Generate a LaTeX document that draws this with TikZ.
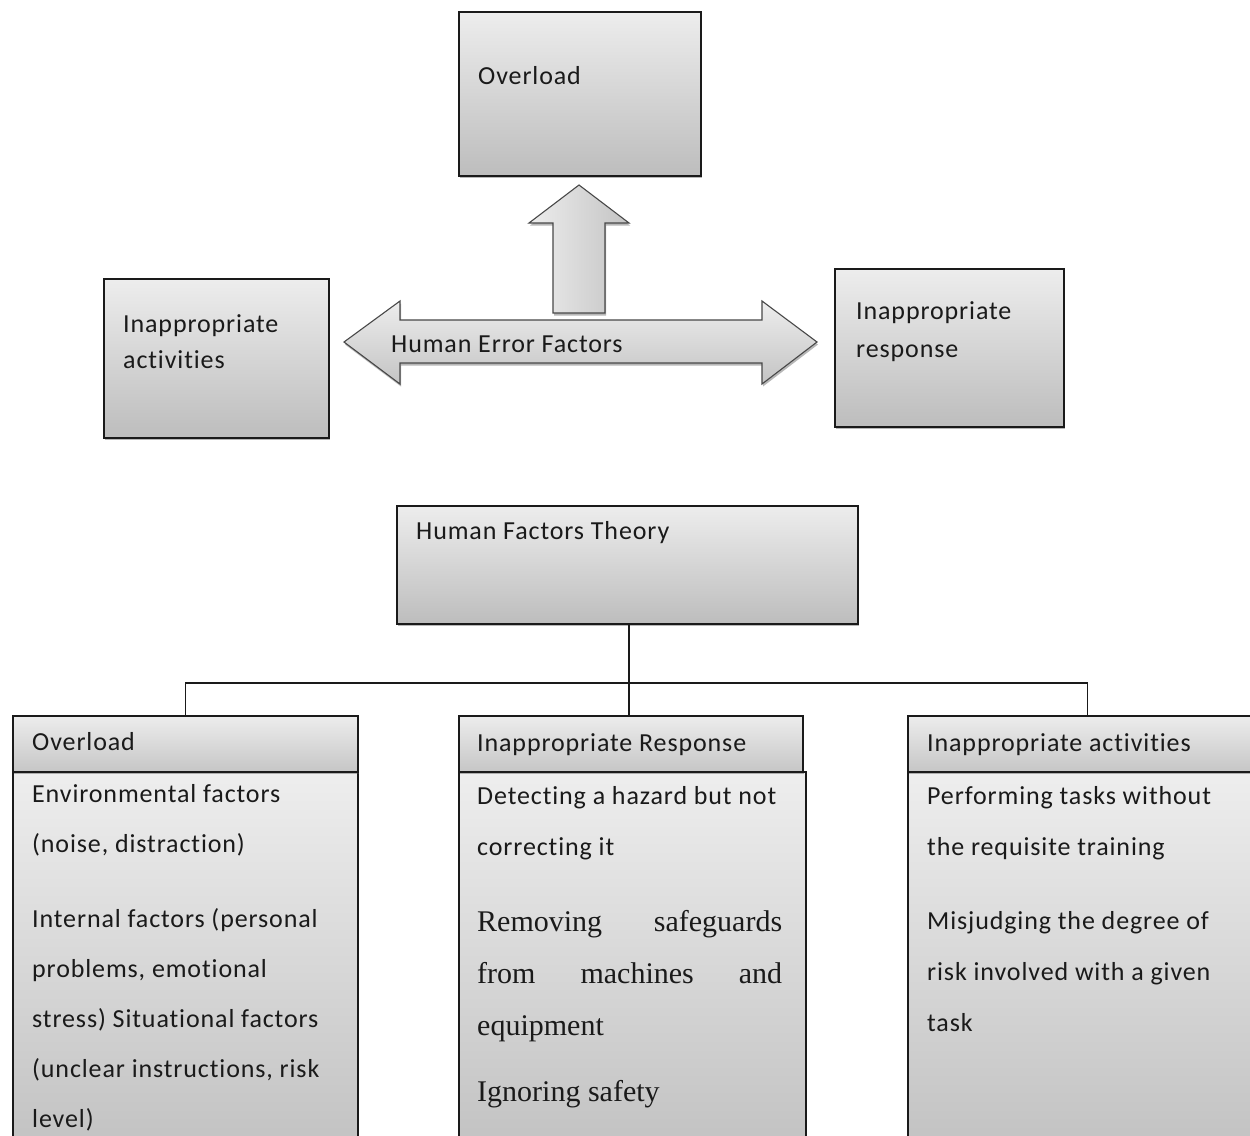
\documentclass[tikz,border=0pt]{standalone}
\usepackage{fontspec}
\setmainfont{Carlito}[LetterSpace=3.4, Ligatures={NoCommon}]
\newfontfamily\serifb{Liberation Serif}
\usetikzlibrary{shadows}
\definecolor{boxtop}{HTML}{EDEDED}
\definecolor{boxbot}{HTML}{BDBDBD}
\definecolor{hdrbot}{HTML}{C6C6C6}
\definecolor{ink}{HTML}{1A1A1A}
\tikzset{
  shad/.style={drop shadow={shadow xshift=1pt, shadow yshift=-2.5pt, opacity=0.4, fill=black!70}},
  box/.style={rectangle, draw=ink, line width=1.5pt, top color=boxtop, bottom color=boxbot, shad, inner sep=0pt, anchor=north west},
  hdr/.style={box, bottom color=hdrbot},
  body/.style={rectangle, draw=ink, line width=1.5pt, top color=boxtop!95!white, bottom color=boxbot, inner sep=0pt, anchor=north west},
  arrowshape/.style={draw=ink!80, line width=1.1pt, shad},
  txt/.style={inner sep=0pt, anchor=base west, text=ink, font=\fontsize{26}{36}\selectfont},
  stxt/.style={inner sep=0pt, anchor=base west, text=ink, font=\serifb\fontsize{30}{52}\selectfont},
  conn/.style={draw=ink, line width=1.2pt}
}
\begin{document}
\begin{tikzpicture}[x=1pt, y=-1pt]
\clip (0,0) rectangle (1250,1135);
\fill[white] (0,0) rectangle (1250,1135);

% ---------- upper part ----------
\node[box, minimum width=242pt, minimum height=164pt] (ovtop) at (458,11) {};
\node[txt] (ovtoptxt) at (478,84) {Overload};

\node[box, minimum width=225pt, minimum height=159pt] (actbox) at (103,278) {};
\node[txt] (acttxt) at (123,332) {\vtop{\baselineskip=36pt\hbox{Inappropriate}\hbox{activities}}};

\node[box, minimum width=229pt, minimum height=158pt] (respbox) at (834,268) {};
\node[txt] (resptxt) at (856,319) {\vtop{\baselineskip=38pt\hbox{Inappropriate}\hbox{response}}};

% up arrow
\path[arrowshape, left color=boxtop, right color=boxbot!90!white]
  (553,313) -- (553,223) -- (529,223) -- (579,185) -- (629,223) -- (605,223) -- (605,313) -- cycle;
% double arrow
\path[arrowshape, top color=boxtop, bottom color=boxbot!90!white]
  (344,342) -- (400,301) -- (400,320) -- (762,320) -- (762,301) -- (817,342)
  -- (762,384) -- (762,363) -- (400,363) -- (400,384) -- cycle;
\node[txt] (heftxt) at (391,352) {Human Error Factors};

% ---------- lower part ----------
\node[box, minimum width=461pt, minimum height=118pt] (hft) at (396,505) {};
\node[txt] (hfttxt) at (416,539) {Human Factors Theory};

% bodies
\node[body, minimum width=345pt, minimum height=420pt] (body1) at (12,771) {};
\node[body, minimum width=347pt, minimum height=420pt] (body2) at (458,771) {};
\node[body, minimum width=360pt, minimum height=420pt] (body3) at (907,771) {};

% headers
\node[hdr, minimum width=345pt, minimum height=56pt] (hdr1) at (12,715) {};
\node[hdr, minimum width=344pt, minimum height=56pt] (hdr2) at (458,715) {};
\node[hdr, minimum width=360pt, minimum height=56pt] (hdr3) at (907,715) {};

\node[txt] (hdr1txt) at (32,750) {Overload};
\node[txt] (hdr2txt) at (477,751) {Inappropriate Response};
\node[txt] (hdr3txt) at (927,751) {Inappropriate activities};

% connectors
\coordinate (junction) at (629,683);
\draw[conn] (hft.south -| junction) -- (junction) -- (junction |- hdr2.north);
\draw[conn] (hdr1.north) -- ++(0,-32) -| (hdr3.north);

% body texts
\node[txt] (b1txt) at (32,802) {\vtop{\baselineskip=50pt
  \hbox{Environmental factors}
  \hbox{(noise, distraction)}
  \vskip25pt
  \hbox{Internal factors (personal}
  \hbox{problems, emotional}
  \hbox{stress) Situational factors}
  \hbox{(unclear instructions, risk}
  \hbox{level)}}};

\node[txt] (b2txt) at (477,804) {\vtop{\baselineskip=51pt
  \hbox{Detecting a hazard but not}
  \hbox{correcting it}}};
\node[stxt] (b2stxt) at (477,931) {\vtop{\baselineskip=52pt
  \hbox to 305pt{Removing\hfill safeguards}
  \hbox to 305pt{from\hfill machines\hfill and}
  \hbox{equipment}
  \vskip14pt
  \hbox{Ignoring safety}}};

\node[txt] (b3txt) at (927,804) {\vtop{\baselineskip=51pt
  \hbox{Performing tasks without}
  \hbox{the requisite training}
  \vskip23pt
  \hbox{Misjudging the degree of}
  \hbox{risk involved with a given}
  \hbox{task}}};
\end{tikzpicture}
\end{document}
